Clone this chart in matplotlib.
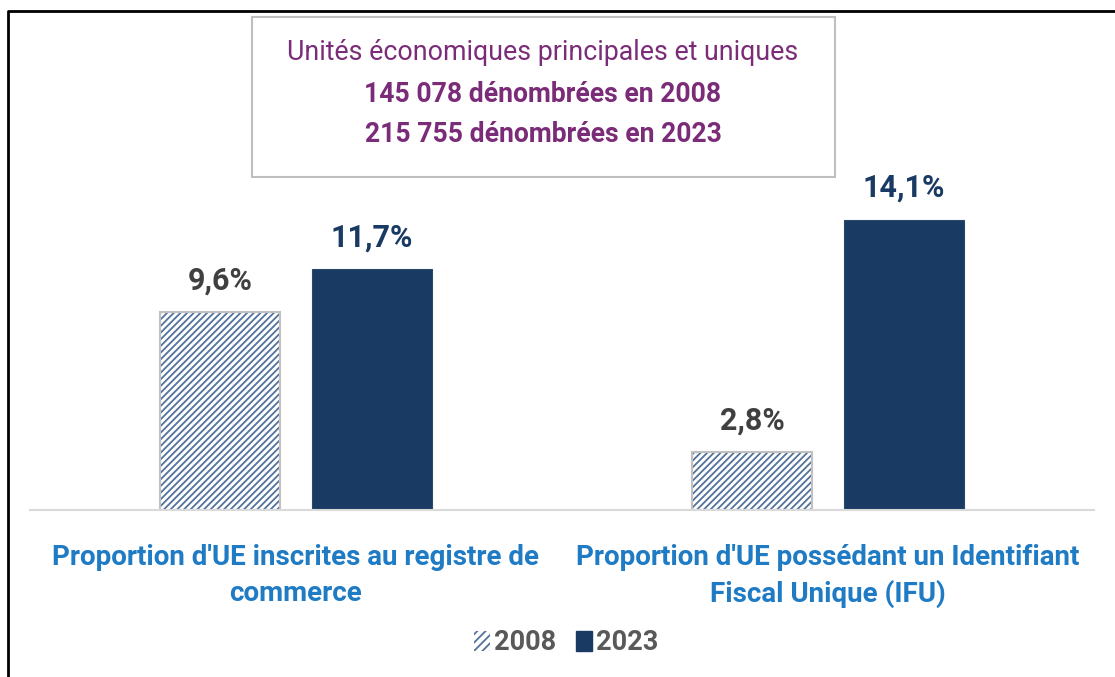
import matplotlib.pyplot as plt
import numpy as np
from matplotlib.patches import Rectangle
from matplotlib.lines import Line2D

plt.rcParams['font.family'] = ['Liberation Sans Narrow', 'Roboto', 'DejaVu Sans']
plt.rcParams['hatch.linewidth'] = 1.3

# data
categories = ["Proportion d'UE inscrites au registre de\ncommerce",
              "Proportion d'UE possédant un Identifiant\nFiscal Unique (IFU)"]
years = ["2008", "2023"]
v2008 = [9.6, 2.8]
v2023 = [11.7, 14.1]
title_lines = ["Unités économiques principales et uniques",
               "145 078 dénombrées en 2008",
               "215 755 dénombrées en 2023"]

navy = "#193A63"
hatch_col = "#52729C"
purple = "#7B2C78"
blue = "#1F7BC4"
grey_txt = "#404040"

fig = plt.figure(figsize=(11.15, 6.77), dpi=100)
W, H = 1115, 677
ax = fig.add_axes([30 / W, 167 / H, 1064 / W, 16 * 20.6 / H])

x = np.arange(len(categories))
w = 0.2256
off = 0.143

# hatched 2008 bars: hatch layer then grey outline
ax.bar(x - off, v2008, w, color="white", edgecolor=hatch_col, hatch="/////", linewidth=0)
ax.bar(x - off, v2008, w, fill=False, edgecolor="#C0C0C0", linewidth=1.5)
ax.bar(x + off, v2023, w, color=navy, edgecolor="#2A4A6A", linewidth=0.8)

for xi, v in zip(x - off, v2008):
    ax.text(xi, v + 0.8, f"{v:.1f}%".replace(".", ","), ha="center", va="bottom",
            fontsize=22, fontweight="bold", color=grey_txt)
for xi, v in zip(x + off, v2023):
    ax.text(xi, v + 0.8, f"{v:.1f}%".replace(".", ","), ha="center", va="bottom",
            fontsize=22, fontweight="bold", color=navy)

ax.set_xlim(-0.5, 1.5)
ax.set_ylim(0, 16)
ax.set_yticks([])
ax.set_xticks([])
for s in ["top", "right", "left"]:
    ax.spines[s].set_visible(False)
ax.spines["bottom"].set_color("#D9D9D9")
ax.spines["bottom"].set_linewidth(1.5)

# category labels
for xi, lab in zip(x, categories):
    ax.annotate(lab, (xi, 0), xytext=(0, -34), textcoords="offset pixels",
                ha="center", va="top", fontsize=20, fontweight="bold",
                color=blue, linespacing=1.42)

# legend
h1 = Rectangle((0, 0), 1, 1, facecolor="white", edgecolor=hatch_col, hatch="////", linewidth=0)
h2 = Rectangle((0, 0), 1, 1, facecolor=navy, edgecolor=navy)
fig.legend([h1, h2], years, loc="center", bbox_to_anchor=(566 / W, 1 - 643 / H),
           ncol=2, frameon=False, handlelength=0.6, handleheight=0.8,
           handletextpad=0.12, columnspacing=0.75,
           prop={"size": 19.5, "weight": "bold"}, labelcolor="#595959")

# title box
fig.patches.append(Rectangle((252 / W, 1 - 177 / H), 583 / W, 160 / H,
                             transform=fig.transFigure, fill=False,
                             edgecolor="#BFBFBF", linewidth=1.5))
ys = [53, 95, 135]
sizes = [19.3, 19.1, 19.1]
for i, (t, yy, fs) in enumerate(zip(title_lines, ys, sizes)):
    fig.text(543 / W, 1 - yy / H, t, ha="center", va="center", fontsize=fs,
             fontweight="normal" if i == 0 else "bold", color=purple)

# outer frame
fig.lines.append(Line2D([8 / W, 8 / W, 1], [0, 1 - 11 / H, 1 - 11 / H],
                        transform=fig.transFigure, color="black", linewidth=2))

fig.savefig("out.png", dpi=100)
